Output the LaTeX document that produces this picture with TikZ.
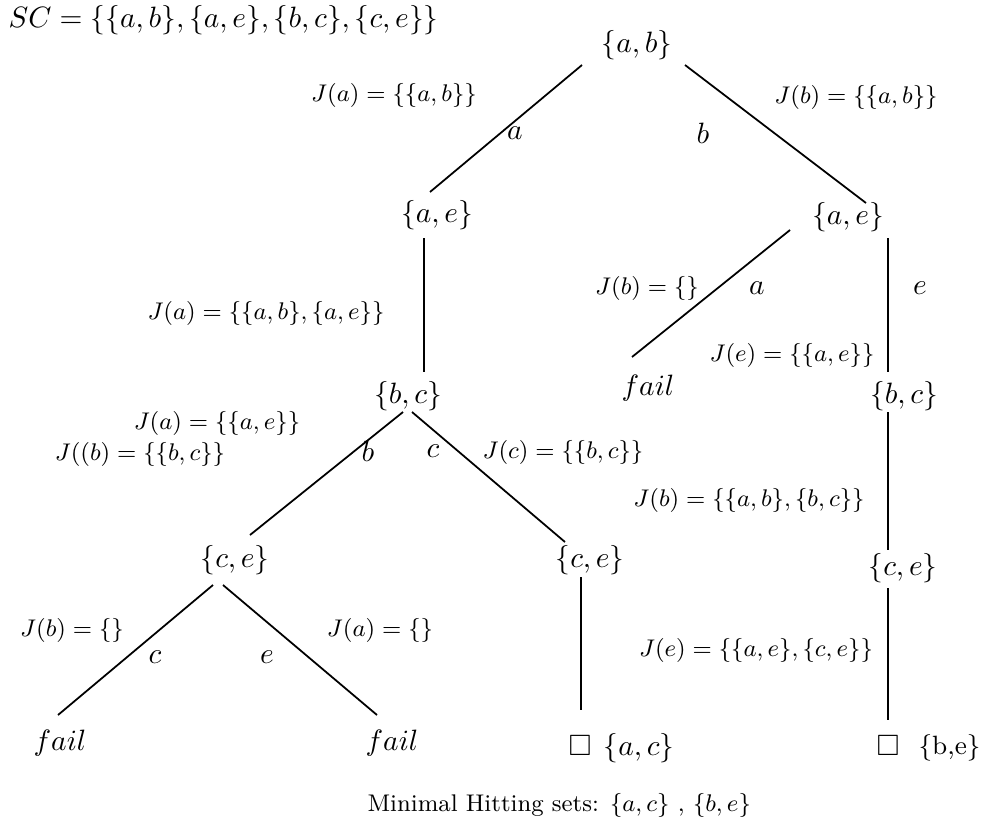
\documentclass[tikz,border=0pt]{standalone}
\usepackage{amsmath,amssymb}
\usetikzlibrary{positioning}

\begin{document}
\begin{tikzpicture}[x=0.34pt, y=-0.34pt, font=\normalsize,
  setnode/.style={inner sep=0pt},
  jlabel/.style={font=\small, scale=0.91, inner sep=0pt},
  elabel/.style={inner sep=0pt},
  edge/.style={line width=0.6pt}]
\useasboundingbox (0,0) rectangle (987,834);
% search tree nodes
\node[anchor=west, inner sep=0pt] (sc) at (8,20) {$SC=\{\{a,b\},\{a,e\},\{b,c\},\{c,e\}\}$};
\node[setnode] (root) at (637,45) {$\{a,b\}$};
\node[setnode] (ae1) at (437,215) {$\{a,e\}$};
\node[setnode] (ae2) at (848,217) {$\{a,e\}$};
\node[setnode] (bc1) at (408,396) {$\{b,c\}$};
\node[setnode] (fail0) at (648,388) {$fail$};
\node[setnode] (bc2) at (904,396) {$\{b,c\}$};
\node[setnode] (ce1) at (235,560) {$\{c,e\}$};
\node[setnode] (ce2) at (590,560) {$\{c,e\}$};
\node[setnode] (ce3) at (903,568) {$\{c,e\}$};
\node[setnode] (fail1) at (60,743) {$fail$};
\node[setnode] (fail2) at (392,743) {$fail$};
\node[setnode] (box1) at (580,746) {$\square$};
\node[setnode, anchor=west] (hs1) at (603,748) {$\{a,c\}$};
\node[setnode] (box2) at (888,746) {$\square$};
\node[setnode, anchor=west, font=\small] (hs2) at (918,748) {\{b,e\}};
% edges
\draw[edge] ([shift={(-55,20)}]root.center) -- ([shift={(-7,-23)}]ae1.center);
\draw[edge] ([shift={(48,20)}]root.center) -- ([shift={(18,-14)}]ae2.center);
\draw[edge] ([shift={(-13,23)}]ae1.center) -- ([shift={(16,-24)}]bc1.center);
\draw[edge] ([shift={(-58,13)}]ae2.center) -- ([shift={(-16,-31)}]fail0.center);
\draw[edge] ([shift={(40,21)}]ae2.center) -- ([shift={(-16,-24)}]bc2.center);
\draw[edge] ([shift={(-16,16)}]bc2.center) -- ([shift={(-15,-18)}]ce3.center);
\draw[edge] ([shift={(-15,20)}]ce3.center) -- ([shift={(0,-26)}]box2.center);
\draw[edge] ([shift={(-5,16)}]bc1.center) -- ([shift={(15,-25)}]ce1.center);
\draw[edge] ([shift={(4,16)}]bc1.center) -- ([shift={(-25,-18)}]ce2.center);
\draw[edge] ([shift={(-9,17)}]ce2.center) -- ([shift={(1,-36)}]box1.center);
\draw[edge] ([shift={(-22,25)}]ce1.center) -- ([shift={(-2,-28)}]fail1.center);
\draw[edge] ([shift={(-12,25)}]ce1.center) -- ([shift={(-15,-28)}]fail2.center);
% branch letters
\node[elabel] (la1) at (515,133) {$a$};
\node[elabel] (lb1) at (703,133) {$b$};
\node[elabel] (la2) at (757,288) {$a$};
\node[elabel] (le1) at (920,288) {$e$};
\node[elabel] (lb2) at (368,451) {$b$};
\node[elabel] (lc1) at (433,451) {$c$};
\node[elabel] (lc2) at (155,657) {$c$};
\node[elabel] (le2) at (267,657) {$e$};
% J labels
\node[jlabel] (j1) at (394,95) {$J(a)=\{\{a,b\}\}$};
\node[jlabel] (j2) at (856,97) {$J(b)=\{\{a,b\}\}$};
\node[jlabel] (j3) at (266,313) {$J(a)=\{\{a,b\},\{a,e\}\}$};
\node[jlabel] (j4) at (647,288) {$J(b)=\{\}$};
\node[jlabel] (j5) at (792,355) {$J(e)=\{\{a,e\}\}$};
\node[jlabel] (j6) at (217,423) {$J(a)=\{\{a,e\}\}$};
\node[jlabel] (j7) at (140,454) {$J((b)=\{\{b,c\}\}$};
\node[jlabel] (j8) at (563,452) {$J(c)=\{\{b,c\}\}$};
\node[jlabel] (j9) at (749,500) {$J(b)=\{\{a,b\},\{b,c\}\}$};
\node[jlabel] (j10) at (72,630) {$J(b)=\{\}$};
\node[jlabel] (j11) at (380,630) {$J(a)=\{\}$};
\node[jlabel] (j12) at (756,650) {$J(e)=\{\{a,e\},\{c,e\}\}$};
% result
\node[jlabel, anchor=west] (result) at (367,805) {Minimal Hitting sets: $\{a,c\}$ , $\{b,e\}$};
\end{tikzpicture}
\end{document}
